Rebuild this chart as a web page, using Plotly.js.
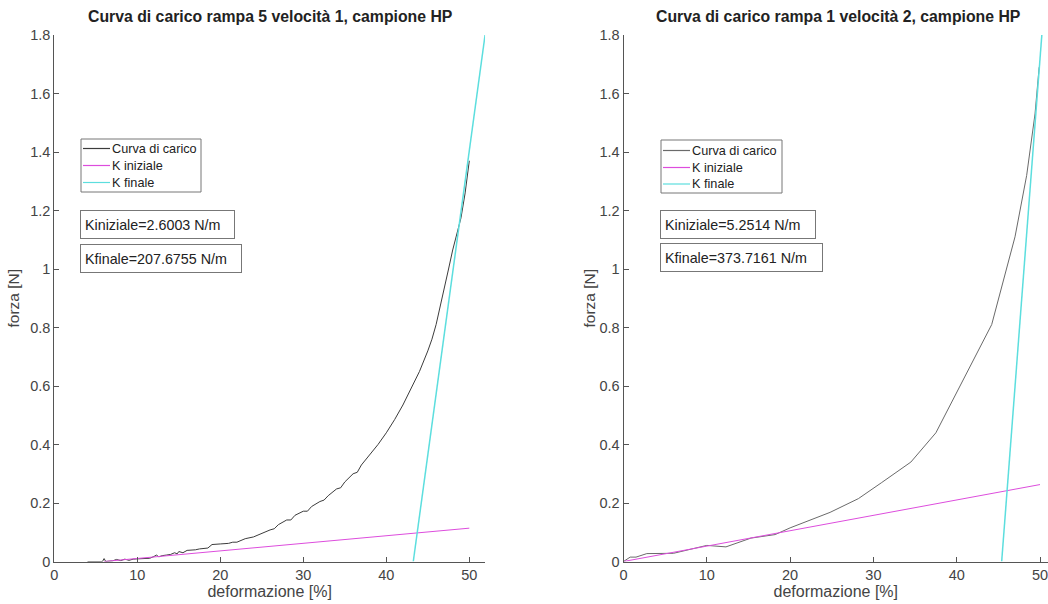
<!DOCTYPE html>
<html>
<head>
<meta charset="utf-8">
<script src="https://cdn.plot.ly/plotly-3.0.1.min.js"></script>
<style>html,body{margin:0;padding:0;background:#fff;overflow:hidden}#chart{width:1048px;height:604px}</style>
</head>
<body>
<div id="chart"></div>
<script>
// ---- data ----
const titles = ["Curva di carico rampa 5 velocità 1, campione HP", "Curva di carico rampa 1 velocità 2, campione HP"];
const seriesNames = ["Curva di carico", "K iniziale", "K finale"];
const kLabels1 = ["Kiniziale=2.6003 N/m", "Kfinale=207.6755 N/m"];
const kLabels2 = ["Kiniziale=5.2514 N/m", "Kfinale=373.7161 N/m"];
const yTicks = [0, 0.2, 0.4, 0.6, 0.8, 1, 1.2, 1.4, 1.6, 1.8];
const xTicks = [0, 10, 20, 30, 40, 50];

// left: rampa 5 velocità 1
const curve1X = [4.0, 5.8, 6.0, 6.2, 7.0, 7.5, 8.0, 8.5, 9.0, 9.5, 10.0, 10.5, 11.0, 11.5, 12.0, 12.3, 12.6, 13.0, 13.5, 14.0, 14.5, 14.8, 15.0, 15.5, 16.0, 16.5, 17.0, 17.5, 18.0, 18.5, 19.0, 19.5, 20.0, 21.0, 21.5, 22.0, 22.5, 23.0, 24.0, 24.5, 25.0, 26.0, 26.5, 27.0, 28.0, 28.5, 29.0, 30.0, 30.5, 31.0, 32.0, 32.5, 33.0, 34.0, 34.5, 35.0, 36.0, 36.5, 37.0, 38.0, 39.0, 40.0, 41.0, 42.0, 43.0, 44.0, 45.0, 45.5, 46.0, 46.5, 47.0, 47.5, 48.0, 48.5, 49.0, 49.5, 50.0];
const curve1Y = [0, 0, 0.010, 0, 0.002, 0.007, 0.003, 0.008, 0.004, 0.008, 0.009, 0.009, 0.011, 0.011, 0.017, 0.022, 0.016, 0.020, 0.022, 0.024, 0.030, 0.026, 0.034, 0.030, 0.038, 0.038, 0.040, 0.043, 0.044, 0.046, 0.058, 0.058, 0.060, 0.062, 0.066, 0.066, 0.072, 0.078, 0.084, 0.090, 0.098, 0.108, 0.112, 0.126, 0.142, 0.142, 0.158, 0.172, 0.172, 0.188, 0.205, 0.210, 0.225, 0.248, 0.252, 0.272, 0.300, 0.305, 0.330, 0.365, 0.400, 0.440, 0.485, 0.535, 0.590, 0.650, 0.720, 0.760, 0.810, 0.870, 0.935, 1.000, 1.065, 1.120, 1.175, 1.260, 1.370];
const kin1X = [6.0, 50.0];
const kin1Y = [0, 0.114];
const kfin1X = [43.25, 51.9];
const kfin1Y = [0, 1.8];

// right: rampa 1 velocità 2
const curve2X = [0, 0.8, 1.5, 2.8, 6.0, 10.0, 12.3, 15.3, 18.2, 20.0, 24.8, 28.2, 31.0, 34.5, 37.5, 41.5, 44.2, 47.0, 48.4, 49.4, 49.9];
const curve2Y = [0, 0.015, 0.015, 0.027, 0.028, 0.055, 0.050, 0.080, 0.092, 0.115, 0.168, 0.215, 0.270, 0.340, 0.440, 0.660, 0.810, 1.110, 1.320, 1.530, 1.690];
const kin2X = [0, 50.0];
const kin2Y = [0, 0.263];
const kfin2X = [45.4, 50.22];
const kfin2Y = [0, 1.8];

// ---- chart ----
const W = 1048, H = 604;
const FONT = "Liberation Sans, Arial, Helvetica, sans-serif";
const axisCol = "#555555";
const cCurve1 = "#3c3c3c", cCurve2 = "#6a6a6a", cMag = "#dd4ddd", cCyan = "#5cdede";

function tr(x, y, name, color, width, xa, ya) {
  return {x: x, y: y, name: name, type: "scatter", mode: "lines",
    line: {color: color, width: width}, xaxis: xa, yaxis: ya, showlegend: false, hoverinfo: "skip"};
}
const data = [
  tr(curve1X, curve1Y, seriesNames[0], cCurve1, 1, "x", "y"),
  tr(kin1X, kin1Y, seriesNames[1], cMag, 1, "x", "y"),
  tr(kfin1X, kfin1Y, seriesNames[2], cCyan, 1.5, "x", "y"),
  tr(curve2X, curve2Y, seriesNames[0], cCurve2, 1, "x2", "y2"),
  tr(kin2X, kin2Y, seriesNames[1], cMag, 1, "x2", "y2"),
  tr(kfin2X, kfin2Y, seriesNames[2], cCyan, 1.5, "x2", "y2")
];

const yDom = [(H - 561.5) / H, (H - 35) / H];
function xax(dom, range, anchor) {
  return {domain: dom, range: range, anchor: anchor, tickvals: xTicks, ticks: "inside", ticklen: 5, tickcolor: axisCol,
    showline: true, linecolor: axisCol, linewidth: 1, showgrid: false, zeroline: false, ticklabeloverflow: "allow",
    tickfont: {family: FONT, size: 14.5, color: "#444"},
    title: {text: "deformazione [%]", font: {family: FONT, size: 16, color: "#444"}, standoff: 2}};
}
function yax(anchor, standoff) {
  return {domain: yDom, range: [0, 1.8], tickvals: yTicks, ticktext: yTicks.map(String), ticks: "inside", ticklen: 5,
    tickcolor: axisCol, showline: true, linecolor: axisCol, linewidth: 1, showgrid: false, zeroline: false,
    anchor: anchor, tickfont: {family: FONT, size: 14.5, color: "#444"},
    title: {text: "forza [N]", font: {family: FONT, size: 15.5, color: "#444"}, standoff: standoff}};
}

function pX(px) { return px / W; }
function pY(py) { return 1 - py / H; }

// custom legend boxes (paper coordinates)
const shapes = [];
const annotations = [];
function legendBox(x0, y0, x1, y1, lineX0, lineX1, rows, colors) {
  shapes.push({type: "rect", xref: "paper", yref: "paper", x0: pX(x0), x1: pX(x1), y0: pY(y0), y1: pY(y1),
    line: {color: "#777", width: 1}, fillcolor: "#fff", layer: "above"});
  rows.forEach((ry, i) => {
    shapes.push({type: "line", xref: "paper", yref: "paper", x0: pX(lineX0), x1: pX(lineX1), y0: pY(ry), y1: pY(ry),
      line: {color: colors[i], width: 1.2}, layer: "above"});
    annotations.push({xref: "paper", yref: "paper", x: pX(lineX1), y: pY(ry), xanchor: "left", yanchor: "middle",
      text: seriesNames[i], showarrow: false, font: {family: FONT, size: 12.7, color: "#222"}});
  });
}
legendBox(81, 139, 201, 192, 83, 110, [148.5, 165.5, 182.5], [cCurve1, cMag, cCyan]);
legendBox(661, 140, 782, 193, 663, 690, [150.5, 167.5, 184], [cCurve2, cMag, cCyan]);

function kBox(xPx, yPx, text, w) {
  annotations.push({xref: "paper", yref: "paper", x: pX(xPx), y: pY(yPx), xanchor: "left", yanchor: "top",
    text: text, showarrow: false, align: "left", width: w, height: 19, borderpad: 4,
    bordercolor: "#777", borderwidth: 1, bgcolor: "#fff",
    font: {family: FONT, size: 14.3, color: "#222"}});
}
function titleAnn(xPx, text) {
  annotations.push({xref: "paper", yref: "paper", x: pX(xPx), y: pY(17), xanchor: "center", yanchor: "middle",
    text: "<b>" + text + "</b>", showarrow: false, font: {family: FONT, size: 15.8, color: "#222"}});
}
titleAnn(270, titles[0]);
titleAnn(838, titles[1]);
kBox(80, 210, kLabels1[0], 145);
kBox(80, 244, kLabels1[1], 152);
kBox(660, 210, kLabels2[0], 146);
kBox(660, 243, kLabels2[1], 153);

const layout = {
  width: W, height: H, margin: {l: 0, r: 0, t: 0, b: 0},
  paper_bgcolor: "#fff", plot_bgcolor: "#fff", showlegend: false,
  xaxis: xax([pX(54.3), pX(54.3 + 51.9 * 8.3)], [0, 51.9], "y"),
  yaxis: yax("x", 6),
  xaxis2: xax([pX(623.5), 1], [0, (W - 623.5) / 8.33], "y2"),
  yaxis2: yax("x2", 0),
  shapes: shapes,
  annotations: annotations
};
Plotly.newPlot("chart", data, layout, {staticPlot: true, displayModeBar: false});
</script>
</body>
</html>
